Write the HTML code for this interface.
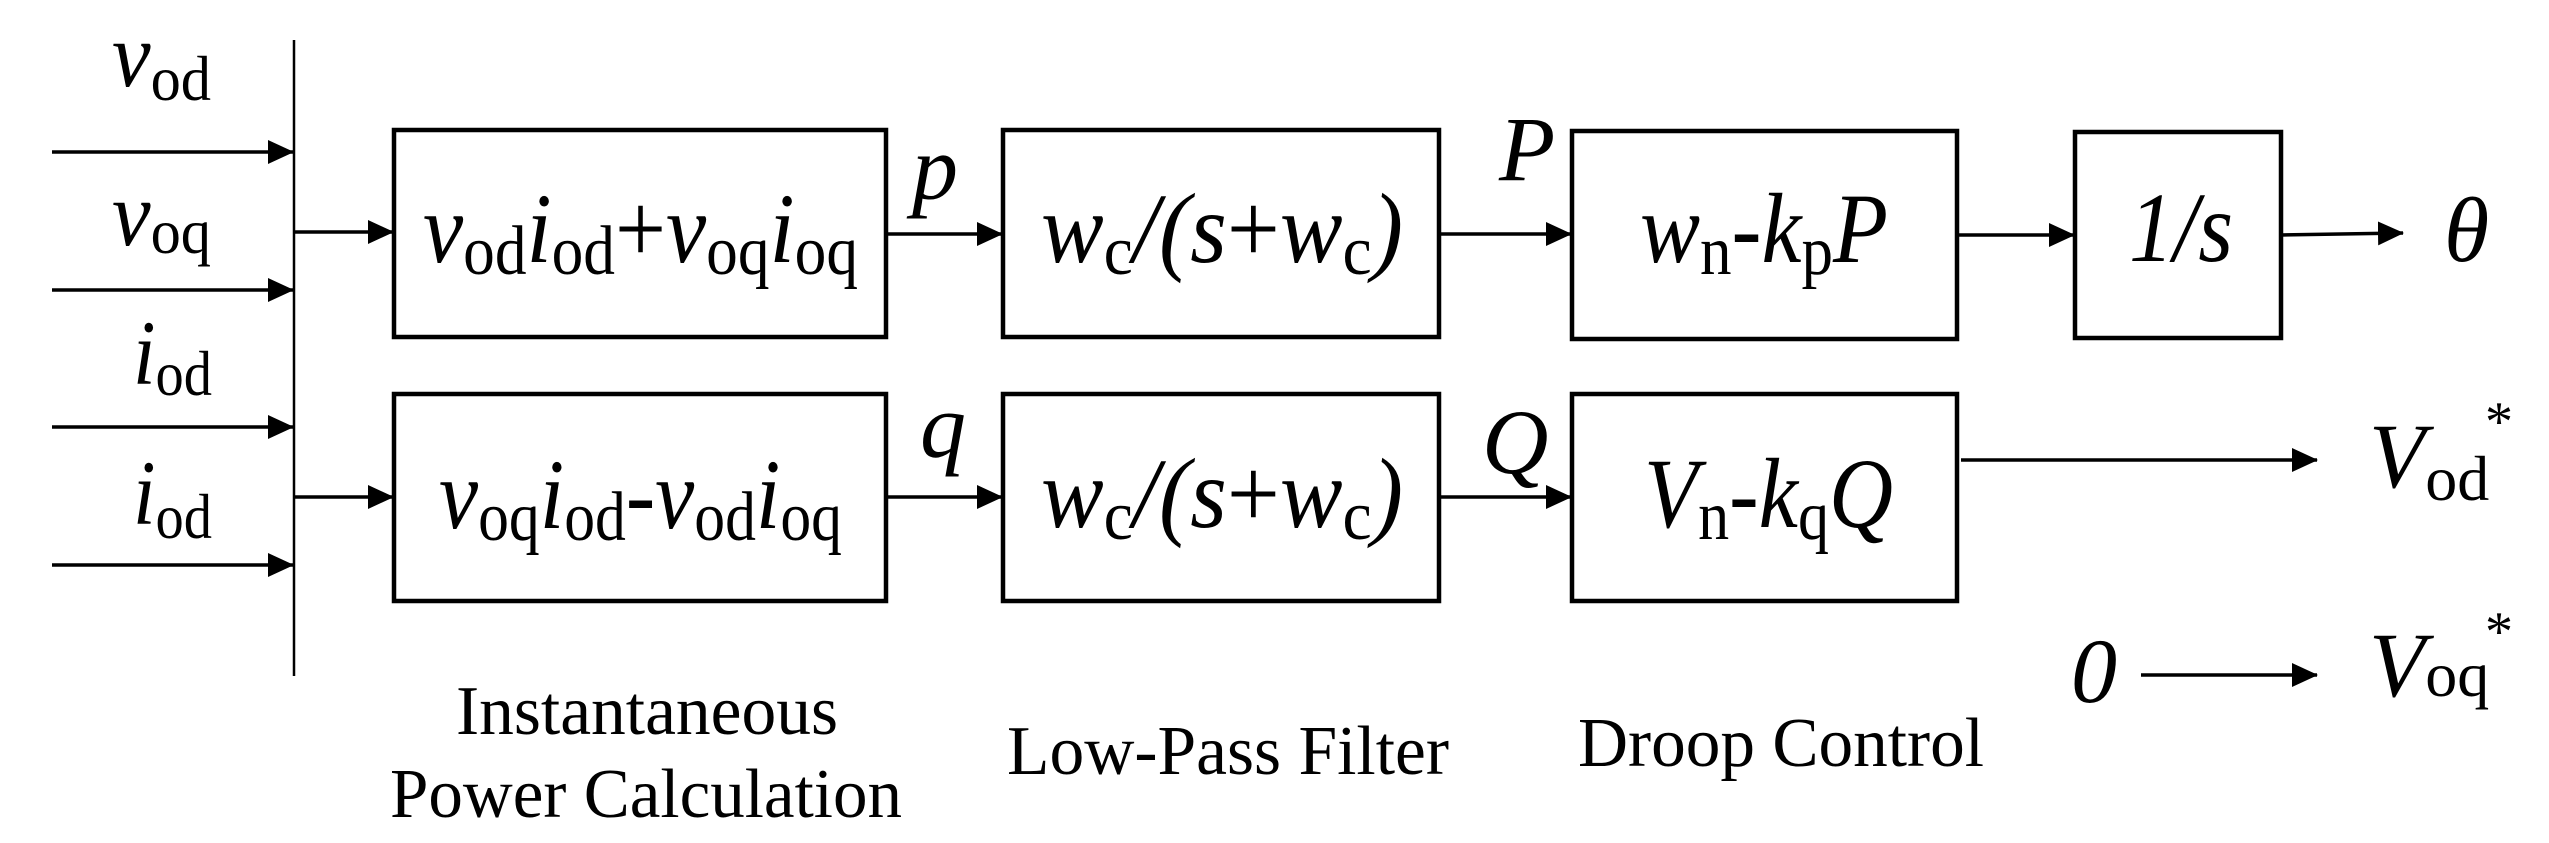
<!DOCTYPE html>
<html><head><meta charset="utf-8"><style>
html,body{margin:0;padding:0;background:#fff;}
svg{display:block}
text{font-family:"Liberation Serif",serif;fill:#000}
.i{font-style:italic}
</style></head><body>
<svg width="2549" height="843" viewBox="0 0 2549 843" xmlns="http://www.w3.org/2000/svg">
<defs>
<marker id="a" markerWidth="26" markerHeight="24" refX="25" refY="12" orient="auto" markerUnits="userSpaceOnUse">
<path d="M0,0 L26,12 L0,24 Z" fill="#000"/></marker>
</defs>
<g stroke="#000" fill="none">
<line x1="294" y1="40" x2="294" y2="676" stroke-width="2.5"/>
<g stroke-width="3.5" marker-end="url(#a)">
<line x1="52" y1="152" x2="293" y2="152"/>
<line x1="52" y1="290" x2="293" y2="290"/>
<line x1="52" y1="427" x2="293" y2="427"/>
<line x1="52" y1="565" x2="293" y2="565"/>
<line x1="295" y1="232" x2="393" y2="232"/>
<line x1="295" y1="497" x2="393" y2="497"/>
<line x1="886" y1="234" x2="1002" y2="234"/>
<line x1="886" y1="497" x2="1002" y2="497"/>
<line x1="1439" y1="234" x2="1571" y2="234"/>
<line x1="1439" y1="497" x2="1571" y2="497"/>
<line x1="1957" y1="235" x2="2074" y2="235"/>
<line x1="2281" y1="235" x2="2403" y2="233"/>
<line x1="1961" y1="460" x2="2317" y2="460"/>
<line x1="2141" y1="675" x2="2317" y2="675"/>
</g>
<g stroke-width="4.5">
<rect x="394" y="130" width="492" height="207"/>
<rect x="394" y="394" width="492" height="207"/>
<rect x="1003" y="130" width="436" height="207"/>
<rect x="1003" y="394" width="436" height="207"/>
<rect x="1572" y="131" width="385" height="208"/>
<rect x="1572" y="394" width="385" height="207"/>
<rect x="2075" y="132" width="206" height="206"/>
</g>
</g>
<!-- input labels -->
<text x="112" y="86" font-size="92" textLength="99" lengthAdjust="spacingAndGlyphs"><tspan class="i">v</tspan><tspan font-size="64" dy="14">od</tspan></text>
<text x="112" y="245" font-size="92" textLength="99" lengthAdjust="spacingAndGlyphs"><tspan class="i">v</tspan><tspan font-size="64" dy="8">oq</tspan></text>
<text x="133" y="384" font-size="92" textLength="79" lengthAdjust="spacingAndGlyphs"><tspan class="i">i</tspan><tspan font-size="64" dy="11">od</tspan></text>
<text x="133" y="524" font-size="92" textLength="79" lengthAdjust="spacingAndGlyphs"><tspan class="i">i</tspan><tspan font-size="64" dy="14">od</tspan></text>
<!-- box texts -->
<text x="423" y="262" font-size="100" textLength="435" lengthAdjust="spacingAndGlyphs"><tspan class="i">v</tspan><tspan font-size="70" dy="12">od</tspan><tspan class="i" dy="-12">i</tspan><tspan font-size="70" dy="12">od</tspan><tspan dy="-12">+</tspan><tspan class="i">v</tspan><tspan font-size="70" dy="12">oq</tspan><tspan class="i" dy="-12">i</tspan><tspan font-size="70" dy="12">oq</tspan></text>
<text x="439" y="528" font-size="100" textLength="403" lengthAdjust="spacingAndGlyphs"><tspan class="i">v</tspan><tspan font-size="70" dy="12">oq</tspan><tspan class="i" dy="-12">i</tspan><tspan font-size="70" dy="12">od</tspan><tspan dy="-12">-</tspan><tspan class="i">v</tspan><tspan font-size="70" dy="12">od</tspan><tspan class="i" dy="-12">i</tspan><tspan font-size="70" dy="12">oq</tspan></text>
<text x="1041" y="262" font-size="100" textLength="362" lengthAdjust="spacingAndGlyphs"><tspan class="i">w</tspan><tspan font-size="70" dy="12">c</tspan><tspan class="i" dy="-12">/(s</tspan><tspan>+</tspan><tspan class="i">w</tspan><tspan font-size="70" dy="12">c</tspan><tspan class="i" dy="-12">)</tspan></text>
<text x="1041" y="527" font-size="100" textLength="362" lengthAdjust="spacingAndGlyphs"><tspan class="i">w</tspan><tspan font-size="70" dy="12">c</tspan><tspan class="i" dy="-12">/(s</tspan><tspan>+</tspan><tspan class="i">w</tspan><tspan font-size="70" dy="12">c</tspan><tspan class="i" dy="-12">)</tspan></text>
<text x="1640" y="262" font-size="100" textLength="248" lengthAdjust="spacingAndGlyphs"><tspan class="i">w</tspan><tspan font-size="70" dy="12">n</tspan><tspan dy="-12">-</tspan><tspan class="i">k</tspan><tspan font-size="70" dy="12">p</tspan><tspan class="i" dy="-12">P</tspan></text>
<text x="1644" y="527" font-size="100" textLength="249" lengthAdjust="spacingAndGlyphs"><tspan class="i">V</tspan><tspan font-size="70" dy="12">n</tspan><tspan dy="-12">-</tspan><tspan class="i">k</tspan><tspan font-size="70" dy="12">q</tspan><tspan class="i" dy="-12">Q</tspan></text>
<text x="2129" y="261" font-size="100" class="i" textLength="104" lengthAdjust="spacingAndGlyphs">1/s</text>
<!-- signal labels -->
<text x="912" y="199" font-size="92" class="i">p</text>
<text x="920" y="457" font-size="92" class="i">q</text>
<text x="1499" y="180" font-size="92" class="i">P</text>
<text x="1482" y="473" font-size="92" class="i">Q</text>
<text x="2444" y="261" font-size="92" class="i">θ</text>
<text x="2369" y="487" font-size="92"><tspan class="i">V</tspan><tspan font-size="64" dy="13">od</tspan></text>
<text x="2485" y="440" font-size="56">*</text>
<text x="2369" y="696" font-size="92"><tspan class="i">V</tspan><tspan font-size="64" dy="0">oq</tspan></text>
<text x="2485" y="650" font-size="56">*</text>
<text x="2071" y="702" font-size="92" class="i">0</text>
<!-- captions -->
<text x="456" y="734" font-size="70" textLength="382" lengthAdjust="spacingAndGlyphs">Instantaneous</text>
<text x="390" y="817" font-size="70" textLength="512" lengthAdjust="spacingAndGlyphs">Power Calculation</text>
<text x="1007" y="774" font-size="70" textLength="442" lengthAdjust="spacingAndGlyphs">Low-Pass Filter</text>
<text x="1578" y="766" font-size="70" textLength="406" lengthAdjust="spacingAndGlyphs">Droop Control</text>
</svg>
</body></html>
